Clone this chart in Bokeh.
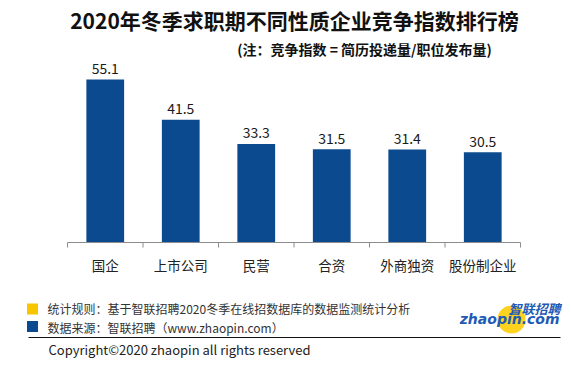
import numpy as np
from bokeh.plotting import figure
from bokeh.models import ColumnDataSource, Range1d
from bokeh.core.properties import value
from bokeh.embed import file_html
from bokeh.resources import INLINE

# ---- data ----
categories = ["国企", "上市公司", "民营", "合资", "外商独资", "股份制企业"]
values = [55.1, 41.5, 33.3, 31.5, 31.4, 30.5]
value_labels = ["55.1", "41.5", "33.3", "31.5", "31.4", "30.5"]
title_text = "2020年冬季求职期不同性质企业竞争指数排行榜"
subtitle_text = "(注：竞争指数 = 简历投递量/职位发布量)"
note1 = "统计规则：基于智联招聘2020冬季在线招数据库的数据监测统计分析"
note2 = "数据来源：智联招聘（www.zhaopin.com）"
copyright_text = "Copyright©2020 zhaopin all rights reserved"
logo_cn = "智联招聘"
logo_en = "zhaopin.com"

# ---- layout (pixels, in picture coordinates) ----
W, H = 571, 370
OX, OY = 0, 0
X0, X1 = 67, 520      # axis span
BASE = 242            # baseline
PPU = 2.96            # pixels per value unit
n = len(categories)
CW = (X1 - X0) / n

def tx(px):
    return (px - X0) / CW - 0.5

def ty(py):
    return (BASE - py) / PPU

FONT = value("Noto Sans CJK SC")
BLUE = "#0B4A8F"
YELLOW = "#F7C600"
LOGO_BLUE = "#1F5BB5"

p = figure(width=W, height=H, output_backend="svg", toolbar_location=None,
           x_range=Range1d(tx(OX), tx(OX + W)), y_range=Range1d(ty(OY + H), ty(OY)),
           x_axis_type=None, y_axis_type=None, min_border=0)
p.grid.visible = False
p.outline_line_color = None
p.background_fill_color = "white"
p.border_fill_color = "white"

idx = np.arange(n)
src = ColumnDataSource(dict(x=idx, v=values, lbl=value_labels, cat=categories))

# bars
p.vbar(x="x", top="v", bottom=0, width=0.5, source=src, fill_color=BLUE, line_color=None)

# value labels
p.text(x="x", y="v", text="lbl", source=src, text_font=FONT, text_font_size="14px",
       text_align="center", text_baseline="alphabetic", y_offset=-11, text_color="#1a1a1a")

# axis line and boundary ticks
bounds = np.arange(n + 1) - 0.5
p.line(x=[bounds[0], bounds[-1]], y=[0, 0], line_color="#8c8c8c", line_width=1)
p.segment(x0=bounds, y0=np.zeros(n + 1), x1=bounds, y1=np.full(n + 1, -5 / PPU),
          line_color="#8c8c8c", line_width=1)

# category labels
p.text(x="x", y=0, text="cat", source=src, text_font=FONT, text_font_size="13.5px",
       text_align="center", text_baseline="middle", y_offset=22, text_color="#222222")

# title & subtitle
p.text(x=[tx(294)], y=[ty(19.5)], text=[title_text], text_font=FONT, text_font_size="21px",
       text_font_style="bold", text_align="center", text_baseline="middle", text_color="#111111")
p.text(x=[tx(364)], y=[ty(48.5)], text=[subtitle_text], text_font=FONT, text_font_size="14px",
       text_font_style="bold", text_align="center", text_baseline="middle", text_color="#111111")

# footer squares and notes
p.scatter(x=[tx(32), tx(32)], y=[ty(308.5), ty(326)], marker="square", size=11,
          fill_color=[YELLOW, BLUE], line_color=None)
p.text(x=[tx(47), tx(47)], y=[ty(308), ty(327)], text=[note1, note2], text_font=FONT,
       text_font_size="12px", text_align="left", text_baseline="middle", text_color="#333333")

# separator line
p.line(x=[tx(28), tx(560)], y=[ty(337), ty(337)], line_color="#111111", line_width=1)

# copyright
p.text(x=[tx(48)], y=[ty(348.5)], text=[copyright_text], text_font=FONT, text_font_size="13px",
       text_align="left", text_baseline="middle", text_color="#222222")

# logo
p.scatter(x=[tx(511)], y=[ty(319)], marker="circle", size=28, fill_color="#FFD21F",
          line_color=None)
p.text(x=[tx(560)], y=[ty(307.5)], text=[logo_cn], text_font=FONT, text_font_size="13px",
       text_font_style="bold italic", text_align="right", text_baseline="middle",
       text_color=LOGO_BLUE)
p.text(x=[tx(559)], y=[ty(318)], text=[logo_en], text_font=value("DejaVu Sans"),
       text_font_size="14px", text_font_style="bold italic", text_align="right",
       text_baseline="middle", text_color=LOGO_BLUE)

open("out.html", "w").write(file_html(p, INLINE))
